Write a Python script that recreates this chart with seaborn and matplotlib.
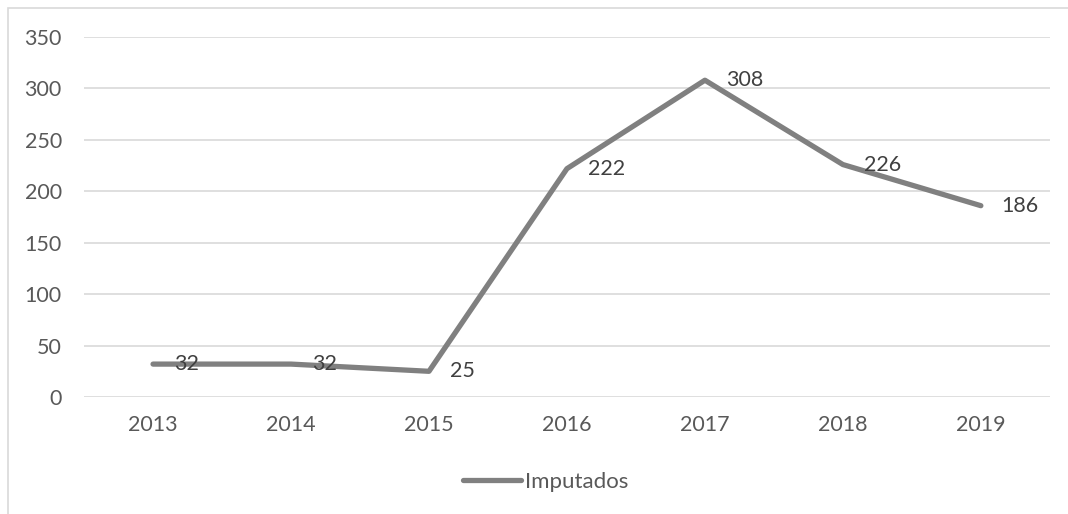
import pandas as pd
import matplotlib.pyplot as plt
import seaborn as sns
from matplotlib.patches import Rectangle

# Data
years = ['2013', '2014', '2015', '2016', '2017', '2018', '2019']
imputados = [32, 32, 25, 222, 308, 226, 186]

df = pd.DataFrame({'Año': years, 'Imputados': imputados})

sns.set_style('white')
plt.rcParams['font.family'] = ['Lato', 'DejaVu Sans']

fig = plt.figure(figsize=(10.68, 5.14), dpi=100)
ax = fig.add_axes([0.0787, 0.2276, 0.9043, 0.7004])

# chart outline (Excel-like frame)
fig.patches.append(Rectangle((8 / 1068, -0.1), 1.2, (514 - 8) / 514 + 0.1,
                             transform=fig.transFigure, fill=False,
                             edgecolor='#d9d9d9', linewidth=1.2))

x = list(range(len(years)))
sns.lineplot(x=x, y=df['Imputados'], ax=ax, color='#808080', linewidth=3.8,
             solid_capstyle='round', solid_joinstyle='round', label='Imputados')

for xi, v in zip(x, imputados):
    ax.annotate(str(v), (xi, v), xytext=(15, 0), textcoords='offset points',
                va='center', ha='left', fontsize=15.5, color='#404040')

ax.set_xlim(-0.5, 6.5)
ax.set_ylim(0, 350)
ax.set_yticks(range(0, 351, 50))
ax.set_xticks(x)
ax.set_xticklabels(years)
ax.tick_params(axis='both', labelsize=15.5, labelcolor='#595959', length=0)
ax.tick_params(axis='x', pad=13)
ax.tick_params(axis='y', pad=16)
ax.grid(axis='y', color='#d9d9d9', linewidth=1.2)
ax.set_axisbelow(True)
for s in ax.spines.values():
    s.set_visible(False)
ax.set_xlabel('')
ax.set_ylabel('')

leg = ax.legend(loc='center', bbox_to_anchor=(0.478, -0.235), frameon=False,
                fontsize=16, handlelength=2.6, handletextpad=0.15)
for t in leg.get_texts():
    t.set_color('#595959')

fig.savefig('out.png', dpi=100)
